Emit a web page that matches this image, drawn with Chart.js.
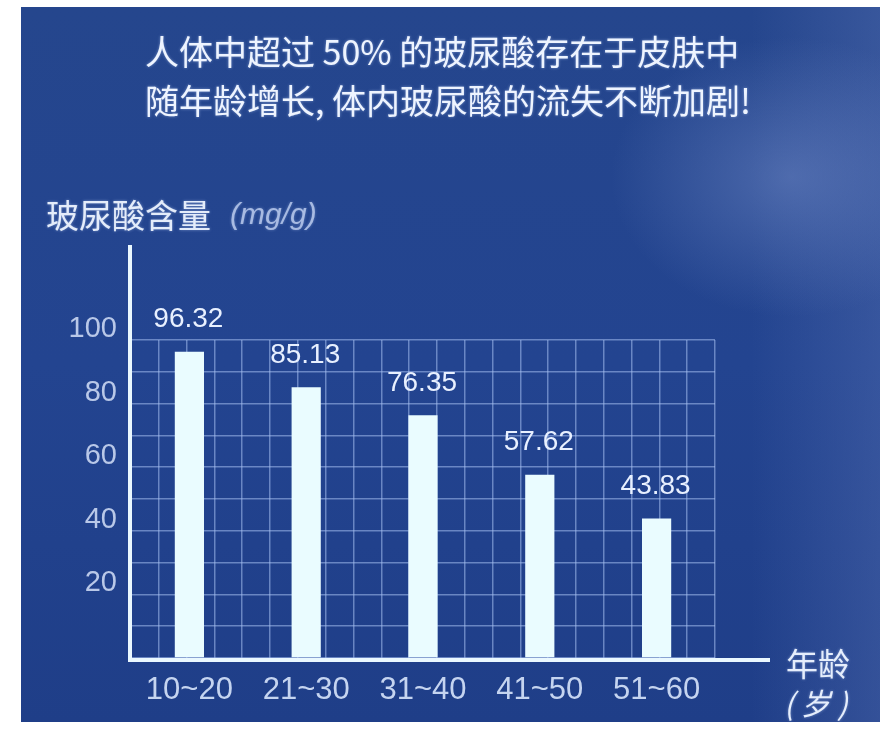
<!DOCTYPE html>
<html lang="zh-CN">

<head>
    <meta charset="UTF-8">
    <title>玻尿酸含量</title>
    <script src="https://cdn.jsdelivr.net/npm/chart.js"></script>
    <style>
        body {
            margin: 0;
            background: #ffffff;
        }

        #fundo {
            position: absolute;
            left: 21px;
            top: 7px;
            width: 859px;
            height: 715px;
            background:
                radial-gradient(ellipse 180px 140px at 770px 170px, rgba(115, 140, 200, 0.5), rgba(115, 140, 200, 0) 100%),
                linear-gradient(90deg, rgba(0, 0, 0, 0) 85%, rgba(100, 125, 190, 0.3) 100%),
                linear-gradient(180deg, #25468d 0%, #234490 50%, #1f3e88 100%);
        }

        #grafico {
            position: absolute;
            left: 0;
            top: 0;
            width: 882px;
            height: 732px;
        }
    </style>
</head>

<body>
    <div id="fundo"></div>
    <div id="grafico">
        <canvas id="myChartCanvas" width="882" height="732"></canvas>
    </div>

<script>
    // dados
    const faixas = ['10~20', '21~30', '31~40', '41~50', '51~60'];
    const valores = [96.32, 85.13, 76.35, 57.62, 43.83];
    const rotulosY = [20, 40, 60, 80, 100];

    const titulo1 = '人体中超过 50% 的玻尿酸存在于皮肤中';
    const titulo2 = '随年龄增长, 体内玻尿酸的流失不断加剧!';

    const corGrade = 'rgba(165, 192, 240, 0.55)';
    const corEixo = '#eaf8ff';

    // desenha eixos, rotulos das barras e textos
    const decoracao = {
        id: 'decoracao',
        afterDraw(chart) {
            const ctx = chart.ctx;
            const area = chart.chartArea;
            ctx.save();

            // eixos brancos (saem para fora da grade)
            ctx.strokeStyle = corEixo;
            ctx.lineWidth = 4;
            ctx.beginPath();
            ctx.moveTo(area.left - 1, 245);
            ctx.lineTo(area.left - 1, area.bottom + 2);
            ctx.moveTo(area.left - 3, area.bottom + 2);
            ctx.lineTo(770, area.bottom + 2);
            ctx.stroke();

            // valores acima das barras
            const meta = chart.getDatasetMeta(0);
            ctx.fillStyle = '#e8f0ff';
            ctx.font = '28px "Liberation Sans", Arial, sans-serif';
            ctx.textAlign = 'center';
            ctx.textBaseline = 'middle';
            meta.data.forEach(function (barra, i) {
                ctx.fillText(valores[i].toFixed(2), barra.x - 1, barra.y - 32);
            });

            // titulo
            ctx.textAlign = 'left';
            ctx.shadowColor = 'rgba(200, 220, 255, 0.5)';
            ctx.shadowBlur = 3;
            ctx.fillStyle = '#eef4ff';
            ctx.font = '34px "Noto Sans CJK SC", sans-serif';
            ctx.fillText(titulo1, 145, 52);
            ctx.fillText(titulo2, 145, 101);

            // titulo do eixo y
            ctx.font = '33px "Noto Sans CJK SC", sans-serif';
            ctx.fillStyle = '#e4ecfa';
            ctx.fillText('玻尿酸含量', 46, 215);
            ctx.font = 'italic 30px "Liberation Sans", sans-serif';
            ctx.fillStyle = 'rgba(200, 215, 245, 0.75)';
            ctx.fillText('(mg/g)', 230, 216);

            // titulo do eixo x
            ctx.font = '32px "Noto Sans CJK SC", sans-serif';
            ctx.fillStyle = '#e6eefc';
            ctx.fillText('年龄', 786, 664);
            ctx.font = 'italic 30px "Noto Sans CJK SC", sans-serif';
            ctx.fillText('( 岁 )', 784, 704);

            ctx.restore();
        }
    };

    const dados = {
        labels: faixas,
        datasets: [{
            data: valores,
            backgroundColor: '#eafcff',
            borderWidth: 0,
            categoryPercentage: 1,
            barPercentage: 0.25,
            xAxisID: 'x'
        }]
    };

    const config = {
        type: 'bar',
        data: dados,
        plugins: [decoracao],
        options: {
            responsive: false,
            animation: false,
            layout: {
                padding: { top: 340, right: 167, left: 0, bottom: 0 }
            },
            plugins: {
                legend: { display: false },
                title: { display: false },
                tooltip: { enabled: false }
            },
            scales: {
                x: {
                    type: 'category',
                    offset: true,
                    grid: { display: false, drawTicks: false },
                    border: { display: false },
                    ticks: {
                        color: '#c5d4f0',
                        font: { family: '"Liberation Sans", Arial, sans-serif', size: 31 },
                        padding: 14,
                        maxRotation: 0
                    },
                    afterFit: function (escala) { escala.height = 74; }
                },
                xg: {
                    // so para as linhas verticais da grade (4 por faixa)
                    type: 'linear',
                    position: 'bottom',
                    min: 0,
                    max: 20,
                    grid: { color: corGrade, lineWidth: 1.5, drawTicks: false },
                    border: { display: false },
                    ticks: { display: false, stepSize: 1, autoSkip: false },
                    afterFit: function (escala) { escala.height = 0; }
                },
                y: {
                    min: 0,
                    max: 100,
                    grid: { color: corGrade, lineWidth: 1.5, drawTicks: false },
                    border: { display: false },
                    ticks: {
                        stepSize: 10,
                        autoSkip: false,
                        color: '#b9c8e8',
                        font: { family: '"Liberation Sans", Arial, sans-serif', size: 29 },
                        padding: 14,
                        labelOffset: -11,
                        callback: function (v) { return rotulosY.includes(v) ? v : ''; }
                    },
                    afterFit: function (escala) { escala.width = 131; }
                }
            }
        }
    };

    let myChart = new Chart(document.getElementById('myChartCanvas'), config);
</script>

</body>

</html>
